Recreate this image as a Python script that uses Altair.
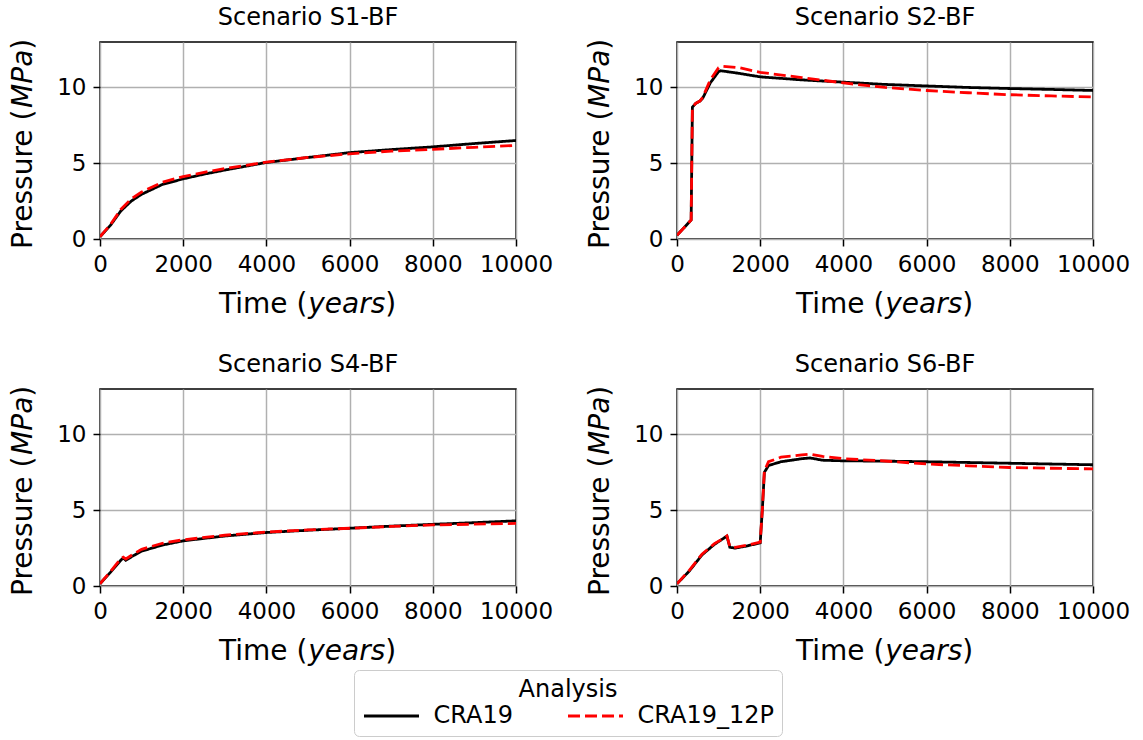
import altair as alt
import pandas as pd

FONT = "DejaVu Sans"
ANALYSES = ["CRA19", "CRA19_12P"]
SCENARIOS = ["S1-BF", "S2-BF", "S4-BF", "S6-BF"]

# ---- pressure histories (time in years, pressure in MPa) ----
s1_cra19_t = [0, 100, 250, 500, 750, 1000, 1500, 2000, 2500, 3000, 4000, 5000, 6000, 7000, 8000, 9000, 10000]
s1_cra19_p = [0.15, 0.45, 0.9, 1.85, 2.5, 2.95, 3.6, 3.97, 4.28, 4.55, 5.05, 5.38, 5.7, 5.9, 6.08, 6.3, 6.5]
s1_12p_t = [0, 100, 250, 500, 750, 1000, 1500, 2000, 2500, 3000, 4000, 5000, 6000, 7000, 8000, 9000, 10000]
s1_12p_p = [0.15, 0.47, 0.95, 1.95, 2.65, 3.1, 3.75, 4.12, 4.4, 4.65, 5.07, 5.38, 5.62, 5.8, 5.92, 6.05, 6.18]

s2_cra19_t = [0, 340, 355, 370, 450, 550, 620, 800, 1000, 1050, 1400, 2000, 3000, 4000, 5000, 6000, 7000, 8000, 9000, 10000]
s2_cra19_p = [0.25, 1.25, 5.0, 8.7, 8.95, 9.1, 9.3, 10.3, 11.05, 11.1, 10.97, 10.7, 10.5, 10.35, 10.2, 10.1, 10.0, 9.93, 9.87, 9.8]
s2_12p_t = [0, 340, 355, 370, 450, 550, 620, 800, 1000, 1100, 1500, 2000, 3000, 4000, 5000, 6000, 7000, 8000, 9000, 10000]
s2_12p_p = [0.25, 1.25, 5.0, 8.7, 8.95, 9.1, 9.35, 10.5, 11.3, 11.4, 11.3, 11.0, 10.65, 10.3, 10.0, 9.8, 9.65, 9.52, 9.44, 9.37]

s4_cra19_t = [0, 250, 500, 560, 620, 800, 1000, 1500, 2000, 3000, 4000, 5000, 6000, 7000, 8000, 9000, 10000]
s4_cra19_p = [0.15, 0.9, 1.7, 1.85, 1.7, 2.0, 2.3, 2.7, 2.98, 3.3, 3.53, 3.68, 3.81, 3.95, 4.07, 4.18, 4.3]
s4_12p_t = [0, 250, 500, 560, 620, 800, 1000, 1500, 2000, 3000, 4000, 5000, 6000, 7000, 8000, 9000, 10000]
s4_12p_p = [0.15, 0.95, 1.8, 1.9, 1.78, 2.1, 2.42, 2.82, 3.05, 3.35, 3.56, 3.7, 3.81, 3.93, 4.03, 4.08, 4.13]

s6_cra19_t = [0, 300, 600, 900, 1150, 1200, 1270, 1400, 1700, 2000, 2050, 2100, 2200, 2500, 3000, 3200, 3500, 4000, 5000, 6000, 7000, 8000, 9000, 10000]
s6_cra19_p = [0.15, 1.0, 2.05, 2.75, 3.2, 3.3, 2.55, 2.5, 2.65, 2.85, 5.0, 7.5, 7.95, 8.2, 8.4, 8.45, 8.3, 8.26, 8.24, 8.2, 8.15, 8.1, 8.05, 8.0]
s6_12p_t = [0, 300, 600, 900, 1150, 1200, 1270, 1400, 1700, 2000, 2050, 2100, 2200, 2500, 3000, 3200, 3500, 4000, 5000, 6000, 7000, 8000, 9000, 10000]
s6_12p_p = [0.15, 1.05, 2.1, 2.8, 3.2, 3.3, 2.6, 2.55, 2.7, 2.9, 5.0, 7.6, 8.2, 8.5, 8.65, 8.7, 8.55, 8.4, 8.25, 8.05, 7.93, 7.82, 7.77, 7.73]

series = {
    ("S1-BF", "CRA19"): (s1_cra19_t, s1_cra19_p),
    ("S1-BF", "CRA19_12P"): (s1_12p_t, s1_12p_p),
    ("S2-BF", "CRA19"): (s2_cra19_t, s2_cra19_p),
    ("S2-BF", "CRA19_12P"): (s2_12p_t, s2_12p_p),
    ("S4-BF", "CRA19"): (s4_cra19_t, s4_cra19_p),
    ("S4-BF", "CRA19_12P"): (s4_12p_t, s4_12p_p),
    ("S6-BF", "CRA19"): (s6_cra19_t, s6_cra19_p),
    ("S6-BF", "CRA19_12P"): (s6_12p_t, s6_12p_p),
}

rows = []
for (scen, ana), (ts, ps) in series.items():
    for i, (t, p) in enumerate(zip(ts, ps)):
        rows.append({"scenario": scen, "analysis": ana, "order": i, "time": t, "pressure": p})
df = pd.DataFrame(rows)

W, H = 416, 197
AXIS_FS = 28
TICK_FS = 23


def text_piece(txt, x, y, italic=False, angle=0):
    return alt.Chart(pd.DataFrame({"t": [txt]})).mark_text(
        font=FONT, fontSize=AXIS_FS, fontStyle="italic" if italic else "normal",
        align="left", baseline="alphabetic", angle=angle, color="black",
    ).encode(text="t:N", x=alt.value(x), y=alt.value(y))


def axis_titles():
    # x title: "Time (years)" with the unit in italics
    xb = H + 74
    x0 = 119.0
    xt = [
        text_piece("Time (", x0, xb),
        text_piece("years", x0 + 89.2, xb, italic=True),
        text_piece(")", x0 + 89.2 + 77.1, xb),
    ]
    # y title: "Pressure (MPa)" rotated, reading upward
    yx = -68.0
    y0 = 207.0
    yt = [
        text_piece("Pressure (", yx, y0, angle=270),
        text_piece("MPa", yx, y0 - 141.1, italic=True, angle=270),
        text_piece(")", yx, y0 - 141.1 - 58.2, angle=270),
    ]
    return xt + yt


def panel(scen):
    lines = alt.Chart(df[df.scenario == scen]).mark_line(strokeWidth=2.8, clip=True).encode(
        x=alt.X("time:Q", scale=alt.Scale(domain=[0, 10000], nice=False),
                axis=alt.Axis(values=[0, 2000, 4000, 6000, 8000, 10000], title=None, format="d",
                              labelOverlap=False, labelBound=False, labelFlush=False)),
        y=alt.Y("pressure:Q", scale=alt.Scale(domain=[0, 13], nice=False),
                axis=alt.Axis(values=[0, 5, 10], title=None, labelOverlap=False)),
        color=alt.Color("analysis:N", scale=alt.Scale(domain=ANALYSES, range=["#000000", "#ff0000"]),
                        legend=alt.Legend(title="Analysis")),
        strokeDash=alt.StrokeDash("analysis:N", scale=alt.Scale(domain=ANALYSES, range=[[1, 0], [12, 5]]),
                                  legend=alt.Legend(title="Analysis")),
        order="order:Q",
    )
    return alt.layer(lines, *axis_titles()).properties(
        width=W, height=H,
        title=alt.TitleParams(f"Scenario {scen}", font=FONT, fontSize=24, fontWeight="normal",
                              color="black", anchor="middle", offset=9),
    )


top = alt.hconcat(panel("S1-BF"), panel("S2-BF"), spacing=32)
bottom = alt.hconcat(panel("S4-BF"), panel("S6-BF"), spacing=32)

chart = alt.vconcat(top, bottom, spacing=32).properties(
    padding={"left": 9, "top": 5, "right": 5, "bottom": 2}
).configure_view(
    stroke="black", strokeWidth=1.5
).configure_axis(
    labelFont=FONT, labelFontSize=TICK_FS, labelColor="black",
    tickColor="black", tickWidth=1.5, tickSize=7, labelPadding=7,
    domain=False, gridColor="#b0b0b0", gridWidth=1.5,
).configure_legend(
    orient="none", legendX=254, legendY=628, direction="horizontal", columns=2,
    titleAnchor="middle", titleFont=FONT, titleFontSize=24, titleFontWeight="normal",
    titleColor="black", titlePadding=2,
    labelFont=FONT, labelFontSize=24, labelColor="black", labelOffset=30,
    symbolType="M-2.75,0H2.75", symbolSize=400, symbolStrokeWidth=3, symbolOffset=17.5,
    columnPadding=49, strokeColor="#cccccc", cornerRadius=5, padding=8, fillColor="white",
)

chart.save("out.html", embed_options={"renderer": "svg", "actions": False})
